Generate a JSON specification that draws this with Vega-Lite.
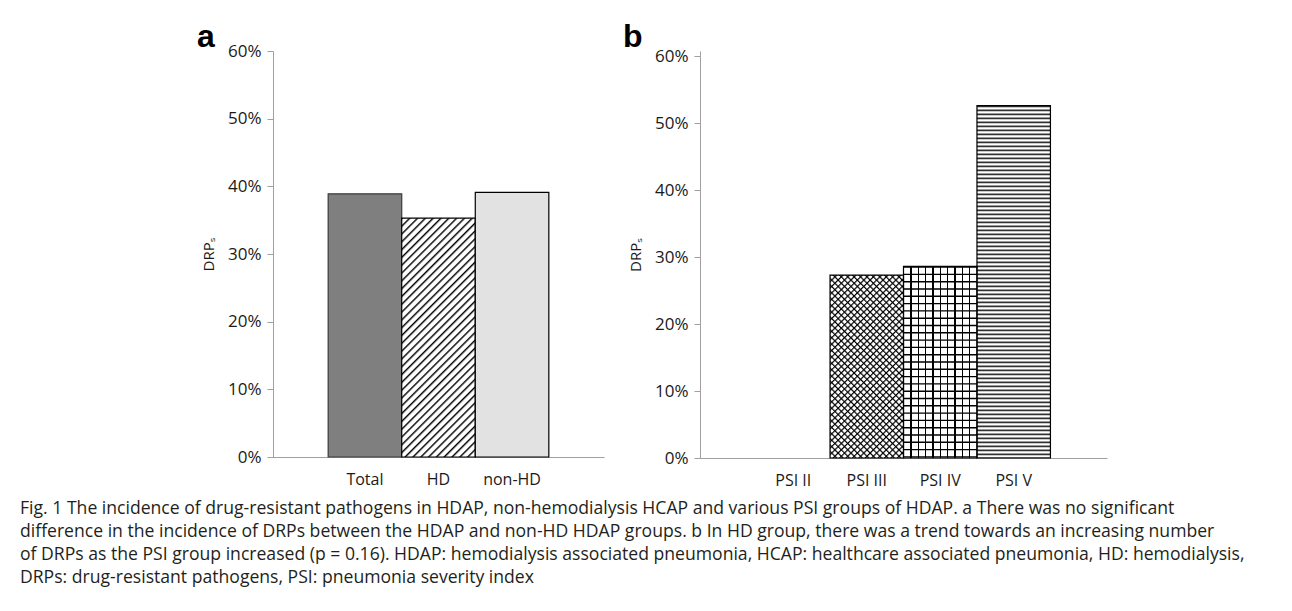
{
  "$schema": "https://vega.github.io/schema/vega-lite/v6.json",
  "background": "white",
  "padding": {"left": 20, "top": 21, "right": 5, "bottom": 5},
  "datasets": {
    "a": [
      {"group": "Total", "drp": 0.389},
      {"group": "HD", "drp": 0.353},
      {"group": "non-HD", "drp": 0.391}
    ],
    "b": [
      {"group": "PSI II", "drp": 0},
      {"group": "PSI III", "drp": 0.273},
      {"group": "PSI IV", "drp": 0.286},
      {"group": "PSI V", "drp": 0.526}
    ]
  },
  "title": {
    "text": [
      "Fig. 1 The incidence of drug-resistant pathogens in HDAP, non-hemodialysis HCAP and various PSI groups of HDAP. a There was no significant",
      "difference in the incidence of DRPs between the HDAP and non-HD HDAP groups. b In HD group, there was a trend towards an increasing number",
      "of DRPs as the PSI group increased (p = 0.16). HDAP: hemodialysis associated pneumonia, HCAP: healthcare associated pneumonia, HD: hemodialysis,",
      "DRPs: drug-resistant pathogens, PSI: pneumonia severity index"
    ],
    "orient": "bottom",
    "anchor": "start",
    "frame": "bounds",
    "dx": -177,
    "offset": 5,
    "font": "Open Sans",
    "fontSize": 17.6,
    "fontWeight": "normal",
    "lineHeight": 23,
    "color": "#231f20"
  },
  "spacing": 19,
  "hconcat": [
    {
      "width": 331,
      "height": 406,
      "title": {"text": "a", "anchor": "start", "frame": "group", "dx": -76, "offset": -12, "font": "Liberation Sans", "fontSize": 32, "fontWeight": "bold", "color": "#000"},
      "data": {"name": "a"},
      "encoding": {
        "x": {
          "field": "group", "type": "nominal", "sort": null,
          "scale": {"domain": ["Total", "HD", "non-HD"], "paddingInner": 0, "paddingOuter": 0.75},
          "axis": {"title": null, "labelAngle": 0, "ticks": false, "tickSize": 0, "labelPadding": 14, "domainColor": "#a0a0a0", "labelFont": "Open Sans", "labelFontSize": 16, "labelColor": "#1a1a1a"}
        },
        "y": {
          "field": "drp", "type": "quantitative",
          "scale": {"domain": [0, 0.6]},
          "axis": {"values": [0, 0.1, 0.2, 0.3, 0.4, 0.5, 0.6], "format": ".0%", "grid": false, "domainColor": "#a0a0a0", "tickColor": "#a0a0a0", "tickSize": 6, "labelPadding": 6, "labelFont": "Open Sans", "labelFontSize": 17, "labelColor": "#1a1a1a", "labelOverlap": false, "title": "DRPₛ", "titleFont": "Open Sans", "titleFontSize": 15, "titleFontWeight": "normal", "titleColor": "#1a1a1a", "titlePadding": 11}
        }
      },
      "layer": [
        {"transform": [{"filter": "datum.group == 'Total'"}], "mark": {"type": "bar", "fill": "#7f7f7f", "stroke": "#3a3a3a", "strokeWidth": 1.2}},
        {"transform": [{"filter": "datum.group == 'HD'"}], "mark": {"type": "bar", "stroke": "#000", "strokeWidth": 1.2, "fill": {"gradient": "linear", "x1": 0, "y1": 0, "x2": 0.3676, "y2": 1.1946, "stops": [
          {"offset":0,"color":"#000"},{"offset":0.008,"color":"#fff"},{"offset":0.02,"color":"#fff"},
          {"offset":0.025,"color":"#000"},{"offset":0.033,"color":"#fff"},{"offset":0.045,"color":"#fff"},
          {"offset":0.05,"color":"#000"},{"offset":0.058,"color":"#fff"},{"offset":0.07,"color":"#fff"},
          {"offset":0.075,"color":"#000"},{"offset":0.083,"color":"#fff"},{"offset":0.095,"color":"#fff"},
          {"offset":0.1,"color":"#000"},{"offset":0.108,"color":"#fff"},{"offset":0.12,"color":"#fff"},
          {"offset":0.125,"color":"#000"},{"offset":0.133,"color":"#fff"},{"offset":0.145,"color":"#fff"},
          {"offset":0.15,"color":"#000"},{"offset":0.158,"color":"#fff"},{"offset":0.17,"color":"#fff"},
          {"offset":0.175,"color":"#000"},{"offset":0.183,"color":"#fff"},{"offset":0.195,"color":"#fff"},
          {"offset":0.2,"color":"#000"},{"offset":0.208,"color":"#fff"},{"offset":0.22,"color":"#fff"},
          {"offset":0.225,"color":"#000"},{"offset":0.233,"color":"#fff"},{"offset":0.245,"color":"#fff"},
          {"offset":0.25,"color":"#000"},{"offset":0.258,"color":"#fff"},{"offset":0.27,"color":"#fff"},
          {"offset":0.275,"color":"#000"},{"offset":0.283,"color":"#fff"},{"offset":0.295,"color":"#fff"},
          {"offset":0.3,"color":"#000"},{"offset":0.308,"color":"#fff"},{"offset":0.32,"color":"#fff"},
          {"offset":0.325,"color":"#000"},{"offset":0.333,"color":"#fff"},{"offset":0.345,"color":"#fff"},
          {"offset":0.35,"color":"#000"},{"offset":0.358,"color":"#fff"},{"offset":0.37,"color":"#fff"},
          {"offset":0.375,"color":"#000"},{"offset":0.383,"color":"#fff"},{"offset":0.395,"color":"#fff"},
          {"offset":0.4,"color":"#000"},{"offset":0.408,"color":"#fff"},{"offset":0.42,"color":"#fff"},
          {"offset":0.425,"color":"#000"},{"offset":0.433,"color":"#fff"},{"offset":0.445,"color":"#fff"},
          {"offset":0.45,"color":"#000"},{"offset":0.458,"color":"#fff"},{"offset":0.47,"color":"#fff"},
          {"offset":0.475,"color":"#000"},{"offset":0.483,"color":"#fff"},{"offset":0.495,"color":"#fff"},
          {"offset":0.5,"color":"#000"},{"offset":0.508,"color":"#fff"},{"offset":0.52,"color":"#fff"},
          {"offset":0.525,"color":"#000"},{"offset":0.533,"color":"#fff"},{"offset":0.545,"color":"#fff"},
          {"offset":0.55,"color":"#000"},{"offset":0.558,"color":"#fff"},{"offset":0.57,"color":"#fff"},
          {"offset":0.575,"color":"#000"},{"offset":0.583,"color":"#fff"},{"offset":0.595,"color":"#fff"},
          {"offset":0.6,"color":"#000"},{"offset":0.608,"color":"#fff"},{"offset":0.62,"color":"#fff"},
          {"offset":0.625,"color":"#000"},{"offset":0.633,"color":"#fff"},{"offset":0.645,"color":"#fff"},
          {"offset":0.65,"color":"#000"},{"offset":0.658,"color":"#fff"},{"offset":0.67,"color":"#fff"},
          {"offset":0.675,"color":"#000"},{"offset":0.683,"color":"#fff"},{"offset":0.695,"color":"#fff"},
          {"offset":0.7,"color":"#000"},{"offset":0.708,"color":"#fff"},{"offset":0.72,"color":"#fff"},
          {"offset":0.725,"color":"#000"},{"offset":0.733,"color":"#fff"},{"offset":0.745,"color":"#fff"},
          {"offset":0.75,"color":"#000"},{"offset":0.758,"color":"#fff"},{"offset":0.77,"color":"#fff"},
          {"offset":0.775,"color":"#000"},{"offset":0.783,"color":"#fff"},{"offset":0.795,"color":"#fff"},
          {"offset":0.8,"color":"#000"},{"offset":0.808,"color":"#fff"},{"offset":0.82,"color":"#fff"},
          {"offset":0.825,"color":"#000"},{"offset":0.833,"color":"#fff"},{"offset":0.845,"color":"#fff"},
          {"offset":0.85,"color":"#000"},{"offset":0.858,"color":"#fff"},{"offset":0.87,"color":"#fff"},
          {"offset":0.875,"color":"#000"},{"offset":0.883,"color":"#fff"},{"offset":0.895,"color":"#fff"},
          {"offset":0.9,"color":"#000"},{"offset":0.908,"color":"#fff"},{"offset":0.92,"color":"#fff"},
          {"offset":0.925,"color":"#000"},{"offset":0.933,"color":"#fff"},{"offset":0.945,"color":"#fff"},
          {"offset":0.95,"color":"#000"},{"offset":0.958,"color":"#fff"},{"offset":0.97,"color":"#fff"},
          {"offset":0.975,"color":"#000"},{"offset":0.983,"color":"#fff"},{"offset":0.995,"color":"#fff"},
          {"offset":1,"color":"#000"}
        ]}}},
        {"transform": [{"filter": "datum.group == 'non-HD'"}], "mark": {"type": "bar", "fill": "#e2e2e2", "stroke": "#000", "strokeWidth": 1.2}}
      ]
    },
    {
      "width": 407,
      "height": 407,
      "title": {"text": "b", "anchor": "start", "frame": "group", "dx": -77, "offset": -7, "font": "Liberation Sans", "fontSize": 32, "fontWeight": "bold", "color": "#000"},
      "data": {"name": "b"},
      "encoding": {
        "x": {
          "field": "group", "type": "nominal", "sort": null,
          "scale": {"domain": ["PSI II", "PSI III", "PSI IV", "PSI V"], "paddingInner": 0, "paddingOuter": 0.77},
          "axis": {"title": null, "labelAngle": 0, "ticks": false, "tickSize": 0, "labelPadding": 14, "domainColor": "#a0a0a0", "labelFont": "Open Sans", "labelFontSize": 16, "labelColor": "#1a1a1a"}
        },
        "y": {
          "field": "drp", "type": "quantitative",
          "scale": {"domain": [0, 0.6075], "nice": false},
          "axis": {"values": [0, 0.1, 0.2, 0.3, 0.4, 0.5, 0.6], "format": ".0%", "grid": false, "domainColor": "#a0a0a0", "tickColor": "#a0a0a0", "tickSize": 6, "labelPadding": 6, "labelFont": "Open Sans", "labelFontSize": 17, "labelColor": "#1a1a1a", "labelOverlap": false, "title": "DRPₛ", "titleFont": "Open Sans", "titleFontSize": 15, "titleFontWeight": "normal", "titleColor": "#1a1a1a", "titlePadding": 11}
        }
      },
      "layer": [
        {"transform": [{"filter": "datum.group == 'PSI III'"}], "mark": {"type": "bar", "fill": {"gradient": "linear", "x1": 0, "y1": 0, "x2": 0.4842, "y2": 1.2069, "stops": [
          {"offset":0,"color":"#000"},{"offset":0.008,"color":"#fff"},{"offset":0.02,"color":"#fff"},
          {"offset":0.025,"color":"#000"},{"offset":0.033,"color":"#fff"},{"offset":0.045,"color":"#fff"},
          {"offset":0.05,"color":"#000"},{"offset":0.058,"color":"#fff"},{"offset":0.07,"color":"#fff"},
          {"offset":0.075,"color":"#000"},{"offset":0.083,"color":"#fff"},{"offset":0.095,"color":"#fff"},
          {"offset":0.1,"color":"#000"},{"offset":0.108,"color":"#fff"},{"offset":0.12,"color":"#fff"},
          {"offset":0.125,"color":"#000"},{"offset":0.133,"color":"#fff"},{"offset":0.145,"color":"#fff"},
          {"offset":0.15,"color":"#000"},{"offset":0.158,"color":"#fff"},{"offset":0.17,"color":"#fff"},
          {"offset":0.175,"color":"#000"},{"offset":0.183,"color":"#fff"},{"offset":0.195,"color":"#fff"},
          {"offset":0.2,"color":"#000"},{"offset":0.208,"color":"#fff"},{"offset":0.22,"color":"#fff"},
          {"offset":0.225,"color":"#000"},{"offset":0.233,"color":"#fff"},{"offset":0.245,"color":"#fff"},
          {"offset":0.25,"color":"#000"},{"offset":0.258,"color":"#fff"},{"offset":0.27,"color":"#fff"},
          {"offset":0.275,"color":"#000"},{"offset":0.283,"color":"#fff"},{"offset":0.295,"color":"#fff"},
          {"offset":0.3,"color":"#000"},{"offset":0.308,"color":"#fff"},{"offset":0.32,"color":"#fff"},
          {"offset":0.325,"color":"#000"},{"offset":0.333,"color":"#fff"},{"offset":0.345,"color":"#fff"},
          {"offset":0.35,"color":"#000"},{"offset":0.358,"color":"#fff"},{"offset":0.37,"color":"#fff"},
          {"offset":0.375,"color":"#000"},{"offset":0.383,"color":"#fff"},{"offset":0.395,"color":"#fff"},
          {"offset":0.4,"color":"#000"},{"offset":0.408,"color":"#fff"},{"offset":0.42,"color":"#fff"},
          {"offset":0.425,"color":"#000"},{"offset":0.433,"color":"#fff"},{"offset":0.445,"color":"#fff"},
          {"offset":0.45,"color":"#000"},{"offset":0.458,"color":"#fff"},{"offset":0.47,"color":"#fff"},
          {"offset":0.475,"color":"#000"},{"offset":0.483,"color":"#fff"},{"offset":0.495,"color":"#fff"},
          {"offset":0.5,"color":"#000"},{"offset":0.508,"color":"#fff"},{"offset":0.52,"color":"#fff"},
          {"offset":0.525,"color":"#000"},{"offset":0.533,"color":"#fff"},{"offset":0.545,"color":"#fff"},
          {"offset":0.55,"color":"#000"},{"offset":0.558,"color":"#fff"},{"offset":0.57,"color":"#fff"},
          {"offset":0.575,"color":"#000"},{"offset":0.583,"color":"#fff"},{"offset":0.595,"color":"#fff"},
          {"offset":0.6,"color":"#000"},{"offset":0.608,"color":"#fff"},{"offset":0.62,"color":"#fff"},
          {"offset":0.625,"color":"#000"},{"offset":0.633,"color":"#fff"},{"offset":0.645,"color":"#fff"},
          {"offset":0.65,"color":"#000"},{"offset":0.658,"color":"#fff"},{"offset":0.67,"color":"#fff"},
          {"offset":0.675,"color":"#000"},{"offset":0.683,"color":"#fff"},{"offset":0.695,"color":"#fff"},
          {"offset":0.7,"color":"#000"},{"offset":0.708,"color":"#fff"},{"offset":0.72,"color":"#fff"},
          {"offset":0.725,"color":"#000"},{"offset":0.733,"color":"#fff"},{"offset":0.745,"color":"#fff"},
          {"offset":0.75,"color":"#000"},{"offset":0.758,"color":"#fff"},{"offset":0.77,"color":"#fff"},
          {"offset":0.775,"color":"#000"},{"offset":0.783,"color":"#fff"},{"offset":0.795,"color":"#fff"},
          {"offset":0.8,"color":"#000"},{"offset":0.808,"color":"#fff"},{"offset":0.82,"color":"#fff"},
          {"offset":0.825,"color":"#000"},{"offset":0.833,"color":"#fff"},{"offset":0.845,"color":"#fff"},
          {"offset":0.85,"color":"#000"},{"offset":0.858,"color":"#fff"},{"offset":0.87,"color":"#fff"},
          {"offset":0.875,"color":"#000"},{"offset":0.883,"color":"#fff"},{"offset":0.895,"color":"#fff"},
          {"offset":0.9,"color":"#000"},{"offset":0.908,"color":"#fff"},{"offset":0.92,"color":"#fff"},
          {"offset":0.925,"color":"#000"},{"offset":0.933,"color":"#fff"},{"offset":0.945,"color":"#fff"},
          {"offset":0.95,"color":"#000"},{"offset":0.958,"color":"#fff"},{"offset":0.97,"color":"#fff"},
          {"offset":0.975,"color":"#000"},{"offset":0.983,"color":"#fff"},{"offset":0.995,"color":"#fff"},
          {"offset":1,"color":"#000"}
        ]}}},
        {"transform": [{"filter": "datum.group == 'PSI III'"}], "mark": {"type": "bar", "fill": {"gradient": "linear", "x1": 0, "y1": 1, "x2": 0.4842, "y2": -0.2069, "stops": [
          {"offset":0,"color":"#000"},{"offset":0.008,"color":"transparent"},{"offset":0.02,"color":"transparent"},
          {"offset":0.025,"color":"#000"},{"offset":0.033,"color":"transparent"},{"offset":0.045,"color":"transparent"},
          {"offset":0.05,"color":"#000"},{"offset":0.058,"color":"transparent"},{"offset":0.07,"color":"transparent"},
          {"offset":0.075,"color":"#000"},{"offset":0.083,"color":"transparent"},{"offset":0.095,"color":"transparent"},
          {"offset":0.1,"color":"#000"},{"offset":0.108,"color":"transparent"},{"offset":0.12,"color":"transparent"},
          {"offset":0.125,"color":"#000"},{"offset":0.133,"color":"transparent"},{"offset":0.145,"color":"transparent"},
          {"offset":0.15,"color":"#000"},{"offset":0.158,"color":"transparent"},{"offset":0.17,"color":"transparent"},
          {"offset":0.175,"color":"#000"},{"offset":0.183,"color":"transparent"},{"offset":0.195,"color":"transparent"},
          {"offset":0.2,"color":"#000"},{"offset":0.208,"color":"transparent"},{"offset":0.22,"color":"transparent"},
          {"offset":0.225,"color":"#000"},{"offset":0.233,"color":"transparent"},{"offset":0.245,"color":"transparent"},
          {"offset":0.25,"color":"#000"},{"offset":0.258,"color":"transparent"},{"offset":0.27,"color":"transparent"},
          {"offset":0.275,"color":"#000"},{"offset":0.283,"color":"transparent"},{"offset":0.295,"color":"transparent"},
          {"offset":0.3,"color":"#000"},{"offset":0.308,"color":"transparent"},{"offset":0.32,"color":"transparent"},
          {"offset":0.325,"color":"#000"},{"offset":0.333,"color":"transparent"},{"offset":0.345,"color":"transparent"},
          {"offset":0.35,"color":"#000"},{"offset":0.358,"color":"transparent"},{"offset":0.37,"color":"transparent"},
          {"offset":0.375,"color":"#000"},{"offset":0.383,"color":"transparent"},{"offset":0.395,"color":"transparent"},
          {"offset":0.4,"color":"#000"},{"offset":0.408,"color":"transparent"},{"offset":0.42,"color":"transparent"},
          {"offset":0.425,"color":"#000"},{"offset":0.433,"color":"transparent"},{"offset":0.445,"color":"transparent"},
          {"offset":0.45,"color":"#000"},{"offset":0.458,"color":"transparent"},{"offset":0.47,"color":"transparent"},
          {"offset":0.475,"color":"#000"},{"offset":0.483,"color":"transparent"},{"offset":0.495,"color":"transparent"},
          {"offset":0.5,"color":"#000"},{"offset":0.508,"color":"transparent"},{"offset":0.52,"color":"transparent"},
          {"offset":0.525,"color":"#000"},{"offset":0.533,"color":"transparent"},{"offset":0.545,"color":"transparent"},
          {"offset":0.55,"color":"#000"},{"offset":0.558,"color":"transparent"},{"offset":0.57,"color":"transparent"},
          {"offset":0.575,"color":"#000"},{"offset":0.583,"color":"transparent"},{"offset":0.595,"color":"transparent"},
          {"offset":0.6,"color":"#000"},{"offset":0.608,"color":"transparent"},{"offset":0.62,"color":"transparent"},
          {"offset":0.625,"color":"#000"},{"offset":0.633,"color":"transparent"},{"offset":0.645,"color":"transparent"},
          {"offset":0.65,"color":"#000"},{"offset":0.658,"color":"transparent"},{"offset":0.67,"color":"transparent"},
          {"offset":0.675,"color":"#000"},{"offset":0.683,"color":"transparent"},{"offset":0.695,"color":"transparent"},
          {"offset":0.7,"color":"#000"},{"offset":0.708,"color":"transparent"},{"offset":0.72,"color":"transparent"},
          {"offset":0.725,"color":"#000"},{"offset":0.733,"color":"transparent"},{"offset":0.745,"color":"transparent"},
          {"offset":0.75,"color":"#000"},{"offset":0.758,"color":"transparent"},{"offset":0.77,"color":"transparent"},
          {"offset":0.775,"color":"#000"},{"offset":0.783,"color":"transparent"},{"offset":0.795,"color":"transparent"},
          {"offset":0.8,"color":"#000"},{"offset":0.808,"color":"transparent"},{"offset":0.82,"color":"transparent"},
          {"offset":0.825,"color":"#000"},{"offset":0.833,"color":"transparent"},{"offset":0.845,"color":"transparent"},
          {"offset":0.85,"color":"#000"},{"offset":0.858,"color":"transparent"},{"offset":0.87,"color":"transparent"},
          {"offset":0.875,"color":"#000"},{"offset":0.883,"color":"transparent"},{"offset":0.895,"color":"transparent"},
          {"offset":0.9,"color":"#000"},{"offset":0.908,"color":"transparent"},{"offset":0.92,"color":"transparent"},
          {"offset":0.925,"color":"#000"},{"offset":0.933,"color":"transparent"},{"offset":0.945,"color":"transparent"},
          {"offset":0.95,"color":"#000"},{"offset":0.958,"color":"transparent"},{"offset":0.97,"color":"transparent"},
          {"offset":0.975,"color":"#000"},{"offset":0.983,"color":"transparent"},{"offset":0.995,"color":"transparent"},
          {"offset":1,"color":"#000"}
        ]}}},
        {"transform": [{"filter": "datum.group == 'PSI IV'"}], "mark": {"type": "bar", "fill": {"gradient": "linear", "x1": 0, "y1": 0, "x2": 1, "y2": 0, "stops": [
          {"offset":0,"color":"#fff"},
          {"offset":0.091,"color":"#fff"},{"offset":0.091,"color":"#000"},{"offset":0.109,"color":"#000"},{"offset":0.109,"color":"#fff"},
          {"offset":0.191,"color":"#fff"},{"offset":0.191,"color":"#000"},{"offset":0.209,"color":"#000"},{"offset":0.209,"color":"#fff"},
          {"offset":0.291,"color":"#fff"},{"offset":0.291,"color":"#000"},{"offset":0.309,"color":"#000"},{"offset":0.309,"color":"#fff"},
          {"offset":0.391,"color":"#fff"},{"offset":0.391,"color":"#000"},{"offset":0.409,"color":"#000"},{"offset":0.409,"color":"#fff"},
          {"offset":0.491,"color":"#fff"},{"offset":0.491,"color":"#000"},{"offset":0.509,"color":"#000"},{"offset":0.509,"color":"#fff"},
          {"offset":0.591,"color":"#fff"},{"offset":0.591,"color":"#000"},{"offset":0.609,"color":"#000"},{"offset":0.609,"color":"#fff"},
          {"offset":0.691,"color":"#fff"},{"offset":0.691,"color":"#000"},{"offset":0.709,"color":"#000"},{"offset":0.709,"color":"#fff"},
          {"offset":0.791,"color":"#fff"},{"offset":0.791,"color":"#000"},{"offset":0.809,"color":"#000"},{"offset":0.809,"color":"#fff"},
          {"offset":0.891,"color":"#fff"},{"offset":0.891,"color":"#000"},{"offset":0.909,"color":"#000"},{"offset":0.909,"color":"#fff"},
          {"offset":1,"color":"#fff"}
        ]}}},
        {"transform": [{"filter": "datum.group == 'PSI IV'"}], "mark": {"type": "rule", "color": "#000", "strokeWidth": 73.5, "strokeDash": [1.4, 5.9], "strokeCap": "butt"}, "encoding": {"x": {"field": "group", "type": "nominal", "bandPosition": 0.5}, "y2": {"datum": 0}}},
        {"transform": [{"filter": "datum.group == 'PSI V'"}], "mark": {"type": "bar", "fill": "#fff"}},
        {"transform": [{"filter": "datum.group == 'PSI V'"}], "mark": {"type": "rule", "color": "#333", "strokeWidth": 73.5, "strokeDash": [1.7, 2.3], "strokeCap": "butt"}, "encoding": {"x": {"field": "group", "type": "nominal", "bandPosition": 0.5}, "y2": {"datum": 0}}},
        {"transform": [{"filter": "datum.drp > 0"}], "mark": {"type": "bar", "fill": "transparent", "stroke": "#000", "strokeWidth": 1.2}}
      ]
    }
  ],
  "config": {
    "view": {"stroke": null},
    "axis": {"grid": false}
  }
}
